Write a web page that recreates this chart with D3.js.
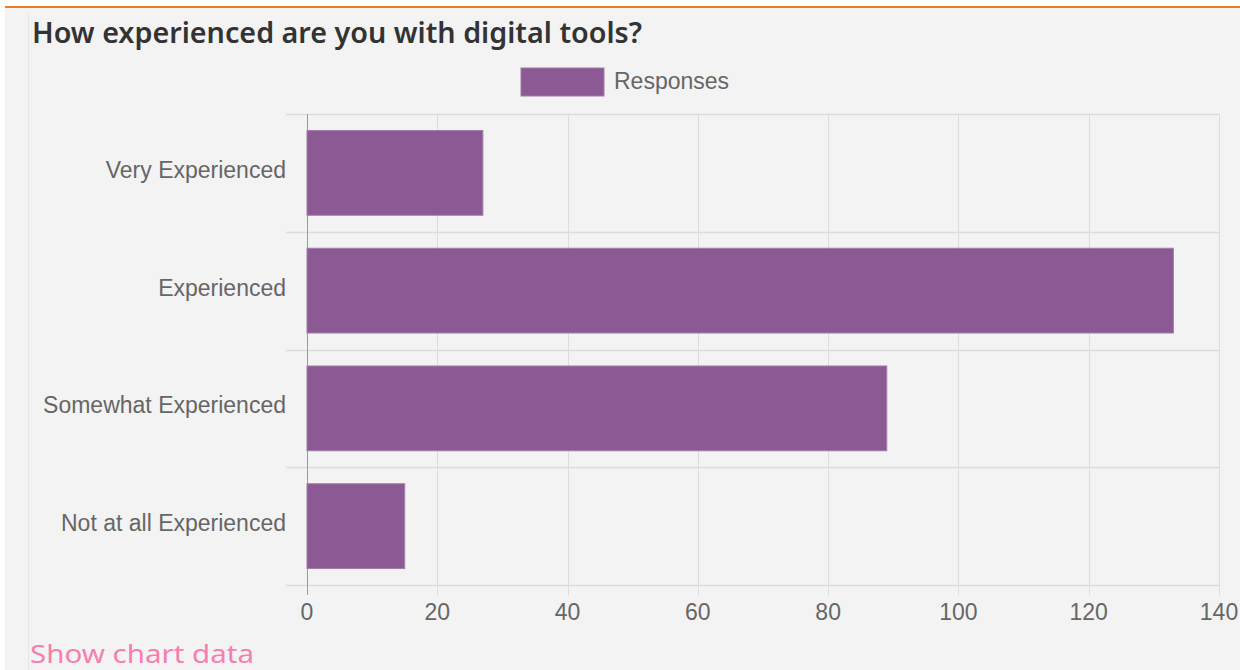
<!DOCTYPE html>
<html>
<head>
<meta charset="utf-8">
<script src="https://cdn.jsdelivr.net/npm/d3@7"></script>
<style>
  html, body { margin: 0; padding: 0; background: #ffffff; }
  svg { display: block; }
</style>
</head>
<body>
<svg id="chart" width="1240" height="670"></svg>
<script>
// Survey answers and their counts
const categories = ["Very Experienced", "Experienced", "Somewhat Experienced", "Not at all Experienced"];
const responses = [27, 133, 89, 15];
const xTicks = [0, 20, 40, 60, 80, 100, 120, 140];
const seriesName = "Responses";
const titleText = "How experienced are you with digital tools?";
const linkText = "Show chart data";

(function draw() {
  const W = 1240, H = 670;
  const svg = d3.select("#chart");

  // Panel background and frame
  svg.append("rect").attr("x", 5).attr("y", 8).attr("width", W - 5).attr("height", H - 8).attr("fill", "#f3f3f3");
  svg.append("line").attr("x1", 5).attr("x2", W).attr("y1", 7).attr("y2", 7)
    .attr("stroke", "#ec7b22").attr("stroke-width", 2);
  svg.append("line").attr("x1", 28.5).attr("x2", 28.5).attr("y1", 14).attr("y2", H)
    .attr("stroke", "#e6e6e6").attr("stroke-width", 1);

  // Title
  svg.append("text").attr("x", 32).attr("y", 43)
    .attr("font-family", "'Noto Sans', 'Open Sans', sans-serif").attr("font-weight", 600)
    .attr("font-size", 28).attr("fill", "#333")
    .attr("textLength", 610).attr("lengthAdjust", "spacingAndGlyphs")
    .text(titleText);

  // Plot area
  const plotL = 307, plotR = 1219, plotT = 114, plotB = 585;
  const x = d3.scaleLinear().domain([0, 140]).range([plotL, plotR]);
  const y = d3.scaleBand().domain(categories).range([plotT, plotB]).paddingInner(0).paddingOuter(0);

  const barColor = "#8b5a95";
  const gridColor = "#dcdcdc";
  const labelFont = "'Liberation Sans', Arial, sans-serif";
  const labelSize = 23;

  // Legend
  const legend = svg.append("g");
  legend.append("rect").attr("x", 521).attr("y", 68).attr("width", 83).attr("height", 28)
    .attr("fill", barColor).attr("stroke", "#a07aa8").attr("stroke-width", 1);
  legend.append("text").attr("x", 614).attr("y", 89).attr("font-family", labelFont)
    .attr("font-size", labelSize).attr("fill", "#666").text(seriesName);

  // Vertical grid lines with tick extensions below the axis
  svg.append("g").selectAll("line").data(xTicks).join("line")
    .attr("x1", d => Math.round(x(d)) + 0.5).attr("x2", d => Math.round(x(d)) + 0.5)
    .attr("y1", plotT).attr("y2", plotB + 10)
    .attr("stroke", gridColor).attr("stroke-width", 1);

  // Horizontal category separators with tick extensions to the left
  const bandEdges = categories.map(c => y(c)).concat([plotB]);
  svg.append("g").selectAll("line").data(bandEdges).join("line")
    .attr("x1", plotL - 21).attr("x2", plotR)
    .attr("y1", d => Math.round(d) + 0.5).attr("y2", d => Math.round(d) + 0.5)
    .attr("stroke", gridColor).attr("stroke-width", 1.5);

  // Zero axis
  svg.append("line").attr("x1", plotL + 0.5).attr("x2", plotL + 0.5).attr("y1", plotT).attr("y2", plotB + 10)
    .attr("stroke", "#9a9a9a").attr("stroke-width", 1);

  // Bars (72% of each band)
  const barFrac = 0.72;
  svg.append("g").selectAll("rect").data(categories).join("rect")
    .attr("x", x(0))
    .attr("y", d => y(d) + y.bandwidth() * (1 - barFrac) / 2)
    .attr("width", (d, i) => x(responses[i]) - x(0))
    .attr("height", y.bandwidth() * barFrac)
    .attr("fill", barColor).attr("stroke", "#a27fab").attr("stroke-width", 1);

  // Category labels
  svg.append("g").selectAll("text").data(categories).join("text")
    .attr("x", 286).attr("y", d => y(d) + y.bandwidth() / 2 + 5)
    .attr("text-anchor", "end").attr("font-family", labelFont).attr("font-size", labelSize)
    .attr("fill", "#666").text(d => d);

  // Value tick labels
  svg.append("g").selectAll("text").data(xTicks).join("text")
    .attr("x", d => x(d)).attr("y", 620)
    .attr("text-anchor", "middle").attr("font-family", labelFont).attr("font-size", labelSize)
    .attr("fill", "#666").text(d => d);

  // Link text
  svg.append("text").attr("x", 30).attr("y", 663)
    .attr("font-family", "'Noto Sans', 'Open Sans', sans-serif").attr("font-size", 26)
    .attr("fill", "#f57fb0")
    .attr("textLength", 224).attr("lengthAdjust", "spacingAndGlyphs")
    .text(linkText);
})();
</script>
</body>
</html>
